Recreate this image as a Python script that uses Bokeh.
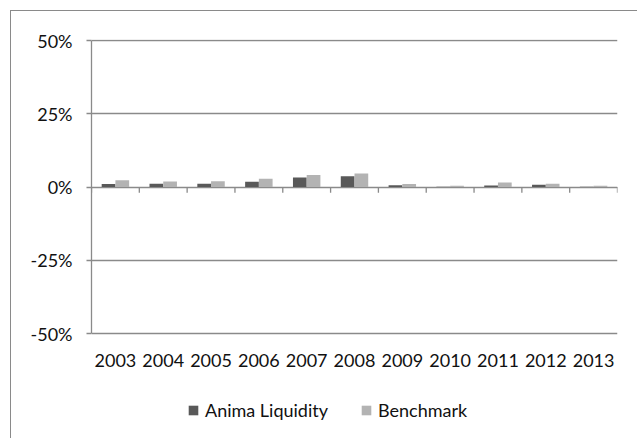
from bokeh.plotting import figure
from bokeh.models import (ColumnDataSource, FactorRange, Range1d, FixedTicker,
                          NumeralTickFormatter, Legend, LegendItem)
from bokeh.core.properties import value
from bokeh.transform import dodge
from bokeh.embed import file_html
from bokeh.resources import INLINE

# ---- data ----
years = ["2003", "2004", "2005", "2006", "2007", "2008",
         "2009", "2010", "2011", "2012", "2013"]
anima_liquidity = [0.010, 0.011, 0.011, 0.018, 0.032, 0.037,
                   0.006, 0.001, 0.005, 0.008, 0.001]
benchmark = [0.023, 0.019, 0.020, 0.028, 0.041, 0.046,
             0.010, 0.004, 0.015, 0.011, 0.004]
y_ticks = [-0.5, -0.25, 0.0, 0.25, 0.5]
series_names = ["Anima Liquidity", "Benchmark"]

DARK = "#595959"
LIGHT = "#b3b3b3"
GRID = "#8a8a8a"
FONT = "Lato"
TEXT = "#111111"

# plot-area geometry (styling): 293 px per 100 %, extra room below for labels/legend
PX = 293.0
Y_TOP = 0.5 + 1.0 / PX
FRAME_H = 398
Y_BOTTOM = Y_TOP - FRAME_H / PX
LABEL_Y = Y_TOP - 321.0 / PX          # category labels below the -50% line

src = ColumnDataSource(dict(year=years, anima=anima_liquidity, bench=benchmark))
edge_src = ColumnDataSource(dict(year=years[-1:]))

p = figure(frame_width=526, frame_height=FRAME_H, output_backend="svg",
           toolbar_location=None,
           x_range=FactorRange(*years), y_range=Range1d(Y_BOTTOM, Y_TOP),
           min_border_left=80, min_border_right=21, min_border_top=28,
           min_border_bottom=2)
p.styles = {"margin-left": "11px", "margin-top": "11px",
            "margin-right": "0px", "margin-bottom": "0px",
            "box-shadow": "-1px -1px 0 0 #8a8a8a"}
p.outline_line_color = None
p.background_fill_color = "white"
p.border_fill_color = "white"
p.xaxis.visible = False

# grid
p.xgrid.grid_line_color = None
p.ygrid.grid_line_color = GRID
p.ygrid.grid_line_width = 1.3
p.ygrid.ticker = FixedTicker(ticks=y_ticks)

# y axis
p.yaxis.ticker = FixedTicker(ticks=y_ticks)
p.yaxis.bounds = (y_ticks[0], y_ticks[-1])
p.yaxis.formatter = NumeralTickFormatter(format="0%")
p.yaxis.axis_line_color = GRID
p.yaxis.axis_line_width = 1.3
p.yaxis.major_tick_line_color = GRID
p.yaxis.major_tick_line_width = 1.3
p.yaxis.major_tick_out = 5
p.yaxis.major_tick_in = 0
p.yaxis.minor_tick_line_color = None
p.yaxis.major_label_standoff = 14
p.yaxis.major_label_text_font = FONT
p.yaxis.major_label_text_font_size = "18px"
p.yaxis.major_label_text_color = TEXT

# bars
bw = 0.287
r1 = p.vbar(x=dodge("year", -bw / 2, range=p.x_range), top="anima", bottom=0,
            width=bw, source=src, fill_color=DARK, line_color=None)
r2 = p.vbar(x=dodge("year", bw / 2, range=p.x_range), top="bench", bottom=0,
            width=bw, source=src, fill_color=LIGHT, line_color=None)

# category axis line at 0 with boundary ticks
p.segment(x0=dodge("year", -0.5, range=p.x_range), x1=dodge("year", -0.5, range=p.x_range),
          y0=0, y1=-0.02, source=src, line_color=GRID, line_width=1.3)
p.segment(x0=dodge("year", 0.5, range=p.x_range), x1=dodge("year", 0.5, range=p.x_range),
          y0=0, y1=-0.02, source=edge_src, line_color=GRID, line_width=1.3)

# category labels
p.text(x="year", y=LABEL_Y, text="year", source=src,
       text_font=value(FONT), text_font_size="18px", text_color=TEXT,
       text_align="center", text_baseline="middle")

legend = Legend(items=[LegendItem(label=series_names[0], renderers=[r1]),
                       LegendItem(label=series_names[1], renderers=[r2])],
                orientation="horizontal", location=(96, 16),
                glyph_width=12, glyph_height=12, label_standoff=6, spacing=32,
                padding=0, margin=0, border_line_color=None,
                background_fill_alpha=0,
                label_text_font=FONT, label_text_font_size="18px",
                label_text_color=TEXT)
p.add_layout(legend, "center")

open("out.html", "w").write(file_html(p, INLINE))
